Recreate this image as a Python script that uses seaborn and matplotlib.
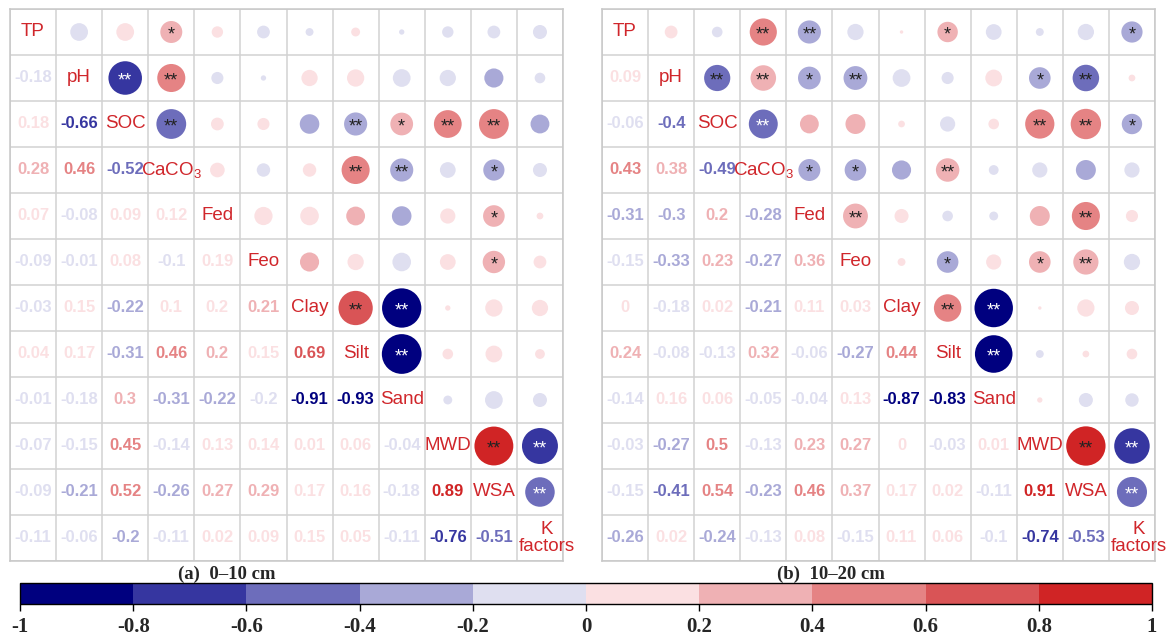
import numpy as np
import pandas as pd
import matplotlib
matplotlib.use("Agg")
import matplotlib.pyplot as plt
import matplotlib.colors as mcolors
import seaborn as sns

# variables on the diagonal
variables = ["TP", "pH", "SOC", "CaCO$_3$", "Fed", "Feo", "Clay", "Silt", "Sand",
             "MWD", "WSA", "K\nfactors"]

# lower triangle, row by row (row i has i values)
lower_a = [
    [],
    [-0.18],
    [0.18, -0.66],
    [0.28, 0.46, -0.52],
    [0.07, -0.08, 0.09, 0.12],
    [-0.09, -0.01, 0.08, -0.1, 0.19],
    [-0.03, 0.15, -0.22, 0.1, 0.198, 0.21],
    [0.04, 0.17, -0.31, 0.46, 0.203, 0.15, 0.69],
    [-0.01, -0.18, 0.3, -0.31, -0.22, -0.198, -0.91, -0.93],
    [-0.07, -0.15, 0.45, -0.14, 0.13, 0.14, 0.01, 0.06, -0.04],
    [-0.09, -0.21, 0.52, -0.26, 0.27, 0.29, 0.17, 0.16, -0.18, 0.89],
    [-0.11, -0.06, -0.204, -0.11, 0.02, 0.09, 0.15, 0.05, -0.11, -0.76, -0.51],
]
lower_b = [
    [],
    [0.09],
    [-0.06, -0.4],
    [0.43, 0.38, -0.49],
    [-0.31, -0.3, 0.203, -0.28],
    [-0.15, -0.33, 0.23, -0.27, 0.36],
    [0.0, -0.18, 0.02, -0.21, 0.11, 0.03],
    [0.24, -0.08, -0.13, 0.32, -0.06, -0.27, 0.44],
    [-0.14, 0.16, 0.06, -0.05, -0.04, 0.13, -0.87, -0.83],
    [-0.03, -0.27, 0.5, -0.13, 0.23, 0.27, 0.0, -0.03, 0.01],
    [-0.15, -0.41, 0.54, -0.23, 0.46, 0.37, 0.17, 0.02, -0.11, 0.91],
    [-0.26, 0.02, -0.24, -0.13, 0.08, -0.15, 0.11, 0.06, -0.1, -0.74, -0.53],
]

# significance marks (row index, col index) for upper triangle
sig_a = {(0, 3): "*", (1, 2): "**", (1, 3): "**", (2, 3): "**", (2, 7): "**",
         (2, 8): "*", (2, 9): "**", (2, 10): "**", (3, 7): "**", (3, 8): "**",
         (3, 10): "*", (4, 10): "*", (5, 10): "*", (6, 7): "**", (6, 8): "**",
         (7, 8): "**", (9, 10): "**", (9, 11): "**", (10, 11): "**"}
sig_b = {(0, 3): "**", (0, 4): "**", (0, 7): "*", (0, 11): "*", (1, 2): "**",
         (1, 3): "**", (1, 4): "*", (1, 5): "**", (1, 9): "*", (1, 10): "**",
         (2, 3): "**", (2, 9): "**", (2, 10): "**", (2, 11): "*", (3, 4): "*",
         (3, 5): "*", (3, 7): "**", (4, 5): "**", (4, 10): "**", (5, 7): "*",
         (5, 9): "*", (5, 10): "**", (6, 7): "**", (6, 8): "**", (7, 8): "**",
         (9, 10): "**", (9, 11): "**", (10, 11): "**"}
white_a = [(1, 2), (6, 8), (7, 8), (9, 11), (10, 11)]
white_b = [(2, 3), (6, 8), (7, 8), (9, 11), (10, 11)]

titles = ["(a)  0\u201310 cm", "(b)  10\u201320 cm"]

bin_colors = ["#00007f", "#3636a0", "#6d6dbb", "#a9a9d7", "#dfdff0",
              "#fbe0e2", "#efb1b4", "#e58384", "#d95456", "#d02425"]
bounds = np.linspace(-1, 1, 11)
cmap = mcolors.ListedColormap(bin_colors)
norm = mcolors.BoundaryNorm(bounds, cmap.N)

sns.set_style("white")
plt.rcParams["font.family"] = ["Liberation Sans", "DejaVu Sans"]
plt.rcParams["mathtext.fontset"] = "custom"
plt.rcParams["mathtext.rm"] = "Liberation Sans"
plt.rcParams["mathtext.default"] = "rm"

n = len(variables)
label_red = "#d0262b"


def fmt(v):
    s = f"{v:.2f}".rstrip("0").rstrip(".")
    return "0" if s in ("-0", "") else s


def draw_panel(ax, lower, sig, white):
    rows = []
    for i in range(n):
        for j in range(i + 1, n):
            r = lower[j][i]
            rows.append({"x": j, "y": i, "r": r, "absr": abs(r)})
    df = pd.DataFrame(rows)
    sns.scatterplot(data=df, x="x", y="y", hue="r", size="absr",
                    palette=cmap, hue_norm=norm, sizes=(6, 880),
                    size_norm=(0, 1), linewidth=0, legend=False, ax=ax,
                    zorder=3)
    for (i, j), mark in sig.items():
        c = "white" if (i, j) in white else "#222222"
        ax.text(j, i + 0.06, mark, ha="center", va="center", fontsize=13,
                color=c, zorder=4)
    for i in range(n):
        for j in range(i):
            v = lower[i][j]
            ax.text(j, i, fmt(v), ha="center", va="center", fontsize=12,
                    fontweight="bold", color=cmap(norm(v)), zorder=4)
    for k, name in enumerate(variables):
        dx = 0.15 if k == n - 1 else 0
        ax.text(k + dx, k, name, ha="center", va="center", fontsize=13.5,
                color=label_red, linespacing=1.0, zorder=5)
    ax.set_xlim(-0.5, n - 0.5)
    ax.set_ylim(n - 0.5, -0.5)
    ax.set_xticks(np.arange(-0.5, n, 1), minor=True)
    ax.set_yticks(np.arange(-0.5, n, 1), minor=True)
    ax.set_xticks([])
    ax.set_yticks([])
    ax.grid(which="minor", color="#d2d2d2", linewidth=1.1)
    ax.tick_params(which="both", length=0)
    ax.set_xlabel("")
    ax.set_ylabel("")
    for sp in ax.spines.values():
        sp.set_color("#c8c8c8")
        sp.set_linewidth(1.1)


fig = plt.figure(figsize=(11.68, 6.35), dpi=100)
ax_a = fig.add_axes([10 / 1168, 1 - 561 / 635, 553 / 1168, 552 / 635])
ax_b = fig.add_axes([602 / 1168, 1 - 561 / 635, 553 / 1168, 552 / 635])
draw_panel(ax_a, lower_a, sig_a, white_a)
draw_panel(ax_b, lower_b, sig_b, white_b)

serif = ["Liberation Serif", "DejaVu Serif"]
fig.text(227 / 1168, 1 - 574 / 635, titles[0], ha="center", va="center",
         fontsize=13.5, fontweight="bold", family=serif)
fig.text(831 / 1168, 1 - 574 / 635, titles[1], ha="center", va="center",
         fontsize=13.5, fontweight="bold", family=serif)

cax = fig.add_axes([20 / 1168, 1 - 604 / 635, 1132 / 1168, 21 / 635])
sm = plt.cm.ScalarMappable(cmap=cmap, norm=norm)
cb = fig.colorbar(sm, cax=cax, orientation="horizontal", ticks=bounds)
cb.set_ticklabels([fmt(b) for b in bounds])
cb.outline.set_edgecolor("black")
cb.outline.set_linewidth(1.0)
cax.tick_params(axis="x", length=5, width=1, color="black", pad=4)
for lab in cax.get_xticklabels():
    lab.set_fontfamily(serif)
    lab.set_fontweight("bold")
    lab.set_fontsize(15)

fig.savefig("out.png", dpi=100)
